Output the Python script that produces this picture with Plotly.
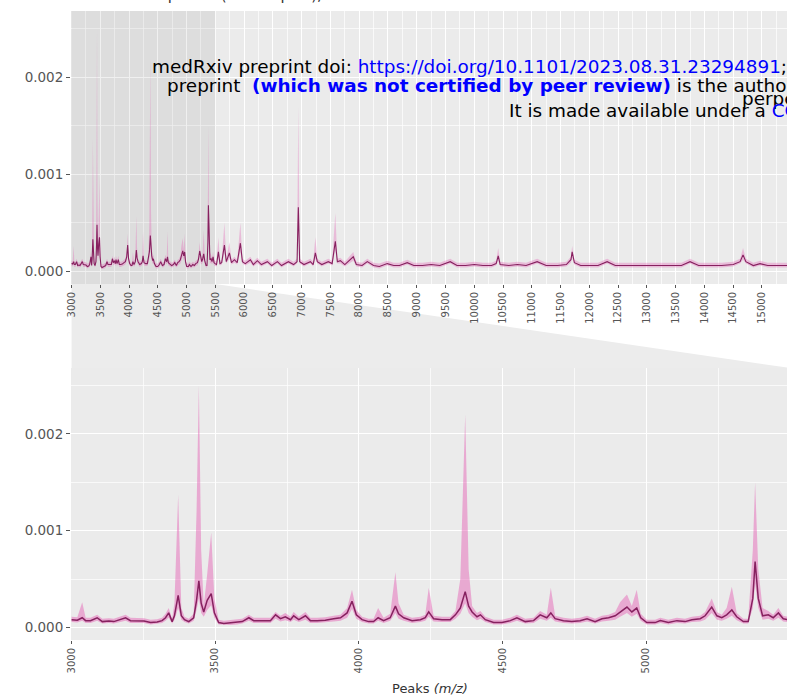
import plotly.graph_objects as go

# ---------------- spectrum values ----------------
# low-mass region (also shown in the enlarged lower panel)
mz_low = [3000, 3020, 3037, 3049, 3066, 3089, 3107, 3130, 3147, 3165,
          3188, 3205, 3228, 3252, 3275, 3298, 3315, 3327, 3338, 3350,
          3358, 3371, 3382, 3393, 3408, 3425, 3435, 3443, 3451, 3460,
          3472, 3486, 3497, 3512, 3530, 3553, 3576, 3594, 3617, 3634,
          3663, 3692, 3710, 3727, 3744, 3762, 3773, 3791, 3814, 3831,
          3855, 3883, 3912, 3936, 3959, 3976, 3991, 4011, 4034, 4051,
          4067, 4086, 4109, 4127, 4138, 4156, 4185, 4214, 4231, 4243,
          4260, 4289, 4318, 4336, 4353, 4370, 4382, 4394, 4411, 4423,
          4440, 4469, 4498, 4527, 4550, 4579, 4608, 4631, 4654, 4668,
          4683, 4712, 4741, 4770, 4794, 4822, 4846, 4869, 4892, 4909,
          4933, 4950, 4967, 4981, 5002, 5031, 5049, 5077, 5107, 5135,
          5159, 5188, 5205, 5228, 5246, 5263, 5280, 5298, 5315, 5338,
          5355, 5371, 5379, 5390, 5405, 5425, 5442, 5460, 5477, 5495]
mean_low = [0.000080, 0.000075, 0.000100, 0.000070, 0.000070, 0.000100, 0.000060, 0.000065, 0.000060, 0.000080,
            0.000100, 0.000070, 0.000070, 0.000065, 0.000050, 0.000055, 0.000070, 0.000100, 0.000150, 0.000060,
            0.000120, 0.000330, 0.000120, 0.000080, 0.000060, 0.000100, 0.000280, 0.000480, 0.000250, 0.000160,
            0.000280, 0.000350, 0.000150, 0.000050, 0.000040, 0.000045, 0.000050, 0.000060, 0.000100, 0.000070,
            0.000070, 0.000070, 0.000130, 0.000090, 0.000110, 0.000080, 0.000120, 0.000080, 0.000120, 0.000070,
            0.000070, 0.000075, 0.000090, 0.000100, 0.000150, 0.000270, 0.000130, 0.000080, 0.000060, 0.000060,
            0.000100, 0.000070, 0.000100, 0.000220, 0.000140, 0.000100, 0.000070, 0.000080, 0.000100, 0.000160,
            0.000090, 0.000080, 0.000080, 0.000130, 0.000200, 0.000370, 0.000220, 0.000160, 0.000110, 0.000130,
            0.000080, 0.000050, 0.000050, 0.000070, 0.000100, 0.000060, 0.000070, 0.000130, 0.000100, 0.000150,
            0.000090, 0.000070, 0.000060, 0.000070, 0.000090, 0.000060, 0.000090, 0.000100, 0.000120, 0.000160,
            0.000210, 0.000160, 0.000200, 0.000100, 0.000050, 0.000050, 0.000070, 0.000050, 0.000070, 0.000060,
            0.000080, 0.000090, 0.000120, 0.000210, 0.000120, 0.000100, 0.000130, 0.000180, 0.000110, 0.000060,
            0.000060, 0.000300, 0.000680, 0.000300, 0.000120, 0.000130, 0.000100, 0.000150, 0.000090, 0.000080]
upper_low = [0.000110, 0.000105, 0.000260, 0.000100, 0.000100, 0.000130, 0.000090, 0.000095, 0.000090, 0.000110,
             0.000130, 0.000100, 0.000100, 0.000095, 0.000080, 0.000085, 0.000100, 0.000140, 0.000200, 0.000090,
             0.000250, 0.001370, 0.000200, 0.000110, 0.000090, 0.000140, 0.001200, 0.002500, 0.000800, 0.000220,
             0.000550, 0.000980, 0.000300, 0.000080, 0.000070, 0.000075, 0.000080, 0.000090, 0.000130, 0.000100,
             0.000100, 0.000100, 0.000160, 0.000120, 0.000150, 0.000110, 0.000160, 0.000110, 0.000160, 0.000100,
             0.000100, 0.000105, 0.000120, 0.000130, 0.000200, 0.000390, 0.000180, 0.000110, 0.000090, 0.000090,
             0.000200, 0.000100, 0.000140, 0.000570, 0.000250, 0.000130, 0.000100, 0.000110, 0.000130, 0.000410,
             0.000120, 0.000110, 0.000110, 0.000170, 0.000500, 0.002200, 0.000600, 0.000220, 0.000150, 0.000170,
             0.000110, 0.000080, 0.000080, 0.000100, 0.000130, 0.000090, 0.000100, 0.000170, 0.000130, 0.000410,
             0.000120, 0.000100, 0.000090, 0.000100, 0.000120, 0.000090, 0.000120, 0.000130, 0.000160, 0.000260,
             0.000340, 0.000220, 0.000390, 0.000140, 0.000080, 0.000080, 0.000100, 0.000080, 0.000100, 0.000090,
             0.000110, 0.000120, 0.000160, 0.000300, 0.000160, 0.000130, 0.000200, 0.000420, 0.000150, 0.000090,
             0.000090, 0.000800, 0.001500, 0.000600, 0.000200, 0.000170, 0.000130, 0.000200, 0.000120, 0.000110]
lower_low = [0.000055, 0.000050, 0.000070, 0.000045, 0.000045, 0.000070, 0.000040, 0.000045, 0.000040, 0.000055,
             0.000070, 0.000045, 0.000045, 0.000045, 0.000030, 0.000035, 0.000045, 0.000070, 0.000100, 0.000040,
             0.000080, 0.000200, 0.000080, 0.000055, 0.000040, 0.000070, 0.000180, 0.000300, 0.000150, 0.000110,
             0.000180, 0.000230, 0.000100, 0.000030, 0.000025, 0.000025, 0.000030, 0.000040, 0.000070, 0.000045,
             0.000045, 0.000045, 0.000090, 0.000060, 0.000075, 0.000055, 0.000080, 0.000055, 0.000080, 0.000045,
             0.000045, 0.000050, 0.000060, 0.000070, 0.000100, 0.000190, 0.000090, 0.000055, 0.000040, 0.000040,
             0.000070, 0.000045, 0.000070, 0.000150, 0.000090, 0.000070, 0.000045, 0.000055, 0.000070, 0.000110,
             0.000060, 0.000055, 0.000055, 0.000090, 0.000140, 0.000250, 0.000150, 0.000110, 0.000075, 0.000090,
             0.000055, 0.000030, 0.000030, 0.000045, 0.000070, 0.000040, 0.000045, 0.000090, 0.000070, 0.000100,
             0.000060, 0.000045, 0.000040, 0.000045, 0.000060, 0.000040, 0.000060, 0.000070, 0.000080, 0.000110,
             0.000150, 0.000110, 0.000140, 0.000070, 0.000030, 0.000030, 0.000045, 0.000030, 0.000045, 0.000040,
             0.000055, 0.000060, 0.000080, 0.000150, 0.000080, 0.000070, 0.000090, 0.000120, 0.000075, 0.000040,
             0.000040, 0.000200, 0.000450, 0.000200, 0.000080, 0.000090, 0.000070, 0.000100, 0.000060, 0.000055]

# high-mass region (upper panel only)
mz_high = [5520, 5553, 5580, 5610, 5657, 5690, 5744, 5780, 5831, 5880,
           5935, 5970, 6020, 6109, 6160, 6230, 6300, 6404, 6480, 6578,
           6650, 6769, 6860, 6920, 6942, 6965, 7040, 7151, 7200, 7238,
           7272, 7350, 7463, 7530, 7585, 7620, 7672, 7750, 7897, 7950,
           8050, 8141, 8250, 8350, 8488, 8600, 8700, 8835, 8950, 9100,
           9250, 9400, 9582, 9700, 9850, 10000, 10150, 10300, 10380, 10416,
           10450, 10600, 10750, 10900, 11093, 11250, 11450, 11600, 11680, 11701,
           11740, 11850, 12000, 12150, 12309, 12450, 12650, 12850, 13050, 13250,
           13450, 13600, 13750, 13900, 14100, 14300, 14500, 14620, 14671, 14720,
           14850, 14966, 15100, 15250, 15450]
mean_high = [0.00007, 0.00020, 0.00008, 0.00009, 0.00027, 0.00010, 0.00019, 0.00009, 0.00012, 0.00009,
             0.00029, 0.00010, 0.00008, 0.00012, 0.00007, 0.00011, 0.00007, 0.00010, 0.00006, 0.00010,
             0.00006, 0.00010, 0.00007, 0.00010, 0.00066, 0.00010, 0.00007, 0.00010, 0.00007, 0.00019,
             0.00010, 0.00007, 0.00010, 0.00008, 0.00031, 0.00010, 0.00011, 0.00007, 0.00015, 0.00007,
             0.00006, 0.00010, 0.00006, 0.00005, 0.00008, 0.00006, 0.00006, 0.00009, 0.00006, 0.00006,
             0.00007, 0.00006, 0.00010, 0.00006, 0.00006, 0.00007, 0.00006, 0.00006, 0.00008, 0.00016,
             0.00007, 0.00006, 0.00007, 0.00006, 0.00010, 0.00006, 0.00006, 0.00007, 0.00012, 0.00020,
             0.00009, 0.00006, 0.00006, 0.00006, 0.00010, 0.00006, 0.00006, 0.00006, 0.00006, 0.00006,
             0.00006, 0.00006, 0.00010, 0.00006, 0.00006, 0.00006, 0.00007, 0.00010, 0.00017, 0.00010,
             0.00006, 0.00008, 0.00006, 0.00006, 0.00006]
upper_high = [0.00010, 0.00035, 0.00011, 0.00012, 0.00050, 0.00013, 0.00030, 0.00012, 0.00015, 0.00012,
              0.00050, 0.00013, 0.00011, 0.00015, 0.00010, 0.00014, 0.00010, 0.00013, 0.00009, 0.00013,
              0.00009, 0.00013, 0.00010, 0.00013, 0.00170, 0.00013, 0.00010, 0.00013, 0.00010, 0.00035,
              0.00013, 0.00010, 0.00013, 0.00011, 0.00060, 0.00013, 0.00014, 0.00010, 0.00020, 0.00010,
              0.00009, 0.00013, 0.00009, 0.00008, 0.00011, 0.00009, 0.00009, 0.00012, 0.00009, 0.00009,
              0.00010, 0.00009, 0.00013, 0.00009, 0.00009, 0.00010, 0.00009, 0.00009, 0.00011, 0.00024,
              0.00010, 0.00009, 0.00010, 0.00009, 0.00013, 0.00009, 0.00009, 0.00010, 0.00015, 0.00026,
              0.00012, 0.00009, 0.00009, 0.00009, 0.00013, 0.00009, 0.00009, 0.00009, 0.00009, 0.00009,
              0.00009, 0.00009, 0.00013, 0.00009, 0.00009, 0.00009, 0.00010, 0.00013, 0.00024, 0.00013,
              0.00009, 0.00011, 0.00009, 0.00009, 0.00009]
lower_high = [0.00005, 0.00014, 0.00006, 0.00007, 0.00019, 0.00008, 0.00013, 0.00007, 0.00009, 0.00007,
              0.00020, 0.00008, 0.00006, 0.00009, 0.00005, 0.00008, 0.00005, 0.00008, 0.00004, 0.00008,
              0.00004, 0.00008, 0.00005, 0.00008, 0.00046, 0.00008, 0.00005, 0.00008, 0.00005, 0.00013,
              0.00008, 0.00005, 0.00008, 0.00006, 0.00022, 0.00008, 0.00008, 0.00005, 0.00011, 0.00005,
              0.00004, 0.00008, 0.00004, 0.00003, 0.00006, 0.00004, 0.00004, 0.00007, 0.00004, 0.00004,
              0.00005, 0.00004, 0.00008, 0.00004, 0.00004, 0.00005, 0.00004, 0.00004, 0.00006, 0.00011,
              0.00005, 0.00004, 0.00005, 0.00004, 0.00008, 0.00004, 0.00004, 0.00005, 0.00009, 0.00014,
              0.00007, 0.00004, 0.00004, 0.00004, 0.00008, 0.00004, 0.00004, 0.00004, 0.00004, 0.00004,
              0.00004, 0.00004, 0.00008, 0.00004, 0.00004, 0.00004, 0.00005, 0.00008, 0.00012, 0.00008,
              0.00004, 0.00006, 0.00004, 0.00004, 0.00004]

# axis ticks
top_ticks = [3000, 3500, 4000, 4500, 5000, 5500, 6000, 6500, 7000, 7500, 8000, 8500, 9000,
             9500, 10000, 10500, 11000, 11500, 12000, 12500, 13000, 13500, 14000, 14500, 15000]
bottom_ticks = [3000, 3500, 4000, 4500, 5000, 5500]
y_ticks = [0.000, 0.001, 0.002]
y_labels = ["0.000", "0.001", "0.002"]
zoom_window = [3000, 5500]

mz = mz_low + mz_high
mean_int = mean_low + mean_high
upper_int = upper_low + upper_high
lower_int = lower_low + lower_high

# ---------------- styling ----------------
W, H = 787, 697
LINE = "#86215f"
RIBBON_TOP = "rgba(228, 88, 178, 0.32)"
RIBBON_BOT = "rgba(228, 88, 178, 0.45)"
PANEL = "#EBEBEB"
TICK_FONT = "DejaVu Sans"


def px(x):
    return x / W


def py(y):
    return 1 - y / H


top_range = [2991, 15435]
bot_range = [2998, 5490]
y_range = [-0.00013, 0.00268]
top_px = (71, 284, 11)      # left edge, bottom edge, top edge
bot_px = (71, 640, 368)

fig = go.Figure()

# darker band marking the enlarged window on the full spectrum
fig.add_trace(go.Scatter(
    x=[zoom_window[0], zoom_window[1], zoom_window[1], zoom_window[0]],
    y=[y_range[0], y_range[0], y_range[1], y_range[1]],
    xaxis="x", yaxis="y", mode="lines", fill="toself",
    fillcolor="rgba(0,0,0,0.06)", line=dict(width=0), hoverinfo="skip", showlegend=False))

for xa, ya, lw, rib in [("x", "y", 1.1, RIBBON_TOP), ("x2", "y2", 1.5, RIBBON_BOT)]:
    fig.add_trace(go.Scatter(x=mz, y=lower_int, xaxis=xa, yaxis=ya, mode="lines",
                             line=dict(width=0, color=rib), hoverinfo="skip", showlegend=False))
    fig.add_trace(go.Scatter(x=mz, y=upper_int, xaxis=xa, yaxis=ya, mode="lines",
                             line=dict(width=0, color=rib), fill="tonexty", fillcolor=rib,
                             hoverinfo="skip", showlegend=False))
    fig.add_trace(go.Scatter(x=mz, y=mean_int, xaxis=xa, yaxis=ya, mode="lines",
                             line=dict(color=LINE, width=lw), showlegend=False))


def x_axis(domain, rng, ticks, minor_step):
    minor_vals = []
    v = ticks[0] - minor_step
    while v <= rng[1]:
        if v not in ticks:
            minor_vals.append(v)
        v += minor_step
    return dict(domain=domain, range=rng, tickmode="array", tickvals=ticks,
                ticktext=[str(t) for t in ticks], tickangle=-90,
                ticks="outside", ticklen=3, tickwidth=1, tickcolor="#555",
                tickfont=dict(family=TICK_FONT, size=10, color="#555"),
                showgrid=True, gridcolor="white", gridwidth=1.1,
                minor=dict(tickvals=minor_vals, showgrid=True, gridcolor="rgba(255,255,255,0.7)",
                           gridwidth=0.5, ticks=""),
                zeroline=False, showline=False, automargin=False, fixedrange=True)


def y_axis(domain):
    return dict(domain=domain, range=y_range, tickmode="array", tickvals=y_ticks,
                ticktext=y_labels, ticks="outside", ticklen=4, tickwidth=1, tickcolor="#555",
                tickfont=dict(family=TICK_FONT, size=13.5, color="#555"),
                showgrid=True, gridcolor="white", gridwidth=1.1,
                minor=dict(tickvals=[0.0005, 0.0015, 0.0025], showgrid=True,
                           gridcolor="rgba(255,255,255,0.7)", gridwidth=0.5, ticks=""),
                zeroline=False, showline=False, automargin=False, fixedrange=True)


fig.update_layout(
    width=W, height=H,
    margin=dict(l=0, r=0, t=0, b=0),
    paper_bgcolor="white", plot_bgcolor=PANEL,
    showlegend=False,
    xaxis=dict(**x_axis([px(top_px[0]), 1], top_range, top_ticks, 250), anchor="y"),
    yaxis=dict(**y_axis([py(top_px[1]), py(top_px[2])]), anchor="x"),
    xaxis2=dict(**x_axis([px(bot_px[0]), 1], bot_range, bottom_ticks, 250), anchor="y2"),
    yaxis2=dict(**y_axis([py(bot_px[1]), py(bot_px[2])]), anchor="x2"),
)


# pixel position of an m/z value on each panel
def top_x(v):
    return top_px[0] + (v - top_range[0]) * (W - top_px[0]) / (top_range[1] - top_range[0])


def bot_x(v):
    return bot_px[0] + (v - bot_range[0]) * (W - bot_px[0]) / (bot_range[1] - bot_range[0])


# funnel joining the window to the enlarged panel
funnel = "M {a},{t} L {b},{t} L {c},{u} L {d},{u} Z".format(
    a=px(top_x(zoom_window[0])), b=px(top_x(zoom_window[1])),
    c=px(bot_x(zoom_window[1])), d=px(bot_x(zoom_window[0])),
    t=py(top_px[1]), u=py(bot_px[2]))
fig.add_shape(type="path", xref="paper", yref="paper", path=funnel,
              fillcolor="#ECECEC", line=dict(width=0), layer="below")

# titles
fig.add_annotation(text="Peaks <i>(m/z)</i>", x=px(430), y=py(688), xref="paper", yref="paper",
                   showarrow=False, xanchor="center", yanchor="middle",
                   font=dict(family=TICK_FONT, size=13, color="#333"))
fig.add_annotation(text="MALDI-TOF spectra (all samples), 2023", x=px(72), y=py(6),
                   xref="paper", yref="paper", showarrow=False, xanchor="left", yanchor="bottom",
                   font=dict(family=TICK_FONT, size=15, color="#333"))

# preprint server banner
BLUE = "#0000ff"
WM = dict(family="DejaVu Sans", size=18.4, color="black")
banner = [
    (150, 66, "medRxiv preprint doi: <span style='color:%s'>https://doi.org/10.1101/2023.08.31.23294891</span>;"
              " this version posted September 1, 2023. The copyright holder for this" % BLUE),
    (165, 85, "preprint\u00a0 <b><span style='color:%s'>(which was not certified by peer review)</span></b>"
              " is the author/funder, who has granted medRxiv a license to display the preprint in" % BLUE),
    (740, 98, "perpetuity."),
    (507, 111, "It is made available under a <span style='color:%s'>CC-BY-NC-ND 4.0 International license</span> ." % BLUE),
]
for bx, by, txt in banner:
    fig.add_annotation(text=txt, x=px(bx), y=py(by), xref="paper", yref="paper", showarrow=False,
                       xanchor="left", yanchor="middle", align="left", font=WM)

fig.write_html("out.html")
